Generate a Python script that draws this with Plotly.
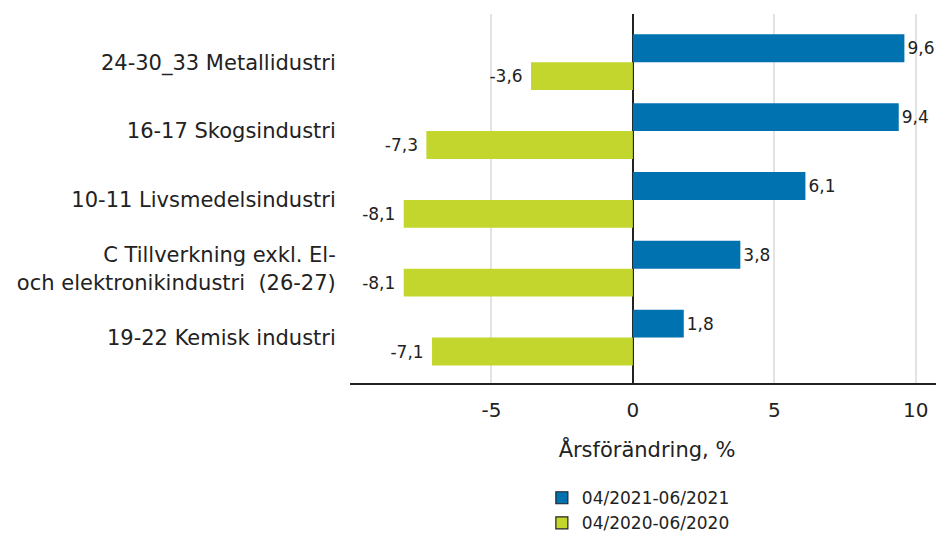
import plotly.graph_objects as go

categories = [
    "24-30_33 Metallidustri",
    "16-17 Skogsindustri",
    "10-11 Livsmedelsindustri",
    "C Tillverkning exkl. El-<br>och elektronikindustri  (26-27)",
    "19-22 Kemisk industri",
]
series_2021 = [9.6, 9.4, 6.1, 3.8, 1.8]
series_2020 = [-3.6, -7.3, -8.1, -8.1, -7.1]
name_2021 = "04/2021-06/2021"
name_2020 = "04/2020-06/2020"
color_2021 = "#0072b0"
color_2020 = "#c3d62e"
tick_vals = [-5, 0, 5, 10]
tick_text = ["-5", "0", "5", "10"]
x_title = "Årsförändring, %"

def fmt(v):
    s = f"{v:.1f}".replace(".", ",")
    return s + "\u00a0" if v < 0 else s

font_family = "DejaVu Sans, Verdana, sans-serif"
text_color = "#222222"

fig = go.Figure()
for vals, name, color in [(series_2021, name_2021, color_2021),
                          (series_2020, name_2020, color_2020)]:
    fig.add_trace(go.Bar(
        y=categories, x=vals, orientation="h", name=name,
        marker=dict(color=color, line=dict(width=0)),
        text=[fmt(v) for v in vals], textposition="outside",
        textfont=dict(size=17, color=text_color, family=font_family),
        cliponaxis=False, showlegend=False,
    ))
# legend entries (square markers with dark outline, as in the reference)
for name, color in [(name_2021, color_2021), (name_2020, color_2020)]:
    fig.add_trace(go.Scatter(
        x=[None], y=[None], mode="markers", name=name,
        marker=dict(symbol="square", size=12, color=color,
                    line=dict(color="#222222", width=1.2)),
        showlegend=True,
    ))

fig.update_layout(
    width=936, height=527,
    margin=dict(l=342, r=0, t=6, b=152, autoexpand=False),
    paper_bgcolor="white", plot_bgcolor="white",
    barmode="group", bargap=0.19, bargroupgap=0,
    font=dict(family=font_family, size=21, color=text_color),
    showlegend=True,
    legend=dict(
        orientation="v", x=0.323, xanchor="left",
        yref="container", y=0.104, yanchor="top",
        font=dict(size=17, color=text_color), traceorder="normal",
        itemwidth=30, tracegroupgap=0,
    ),
    xaxis=dict(
        range=[-10, 11], tickvals=tick_vals, ticktext=tick_text,
        showgrid=True, gridcolor="#e3e3e3", gridwidth=1.5,
        zeroline=True, zerolinecolor="#222222", zerolinewidth=1.5,
        showline=True, linecolor="#222222", linewidth=1.5,
        ticks="outside", ticklen=8, tickcolor="rgba(0,0,0,0)",
        tickfont=dict(size=20),
        title=dict(text=x_title, font=dict(size=21), standoff=22),
    ),
    yaxis=dict(
        range=[4.66, -0.7], showgrid=False, zeroline=False, showline=False,
        ticks="outside", ticklen=9, tickcolor="rgba(0,0,0,0)",
        tickfont=dict(size=21),
    ),
)

fig.write_html("out.html")
